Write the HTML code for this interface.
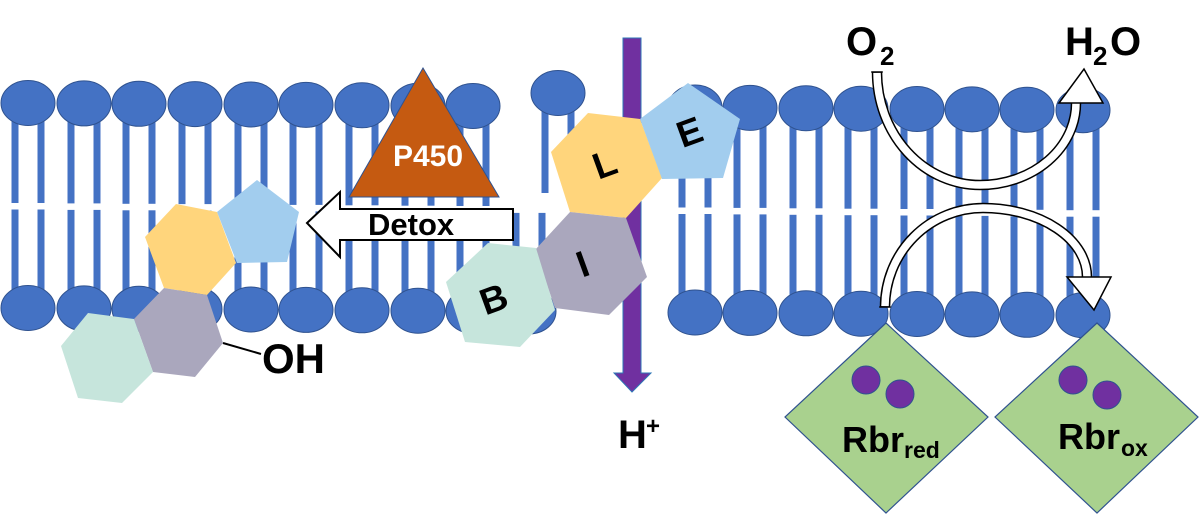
<!DOCTYPE html>
<html><head><meta charset="utf-8"><style>
html,body{margin:0;padding:0;background:#fff;}
svg{display:block;}
text{font-family:"Liberation Sans",Arial,sans-serif;font-weight:bold;}
</style></head><body>
<svg width="1200" height="516" viewBox="0 0 1200 516" xmlns="http://www.w3.org/2000/svg">
<defs>
<g id="col">
<rect x="-16.5" y="0" width="7" height="100" fill="#4472c4"/>
<rect x="9.5" y="0" width="7" height="100" fill="#4472c4"/>
<rect x="-16.5" y="106.5" width="7" height="98.5" fill="#4472c4"/>
<rect x="9.5" y="106.5" width="7" height="98.5" fill="#4472c4"/>
<ellipse cx="0" cy="0" rx="27" ry="22.5" fill="#4472c4" stroke="#2f528f" stroke-width="1"/>
<ellipse cx="0" cy="205" rx="27" ry="22.5" fill="#4472c4" stroke="#2f528f" stroke-width="1"/>
</g>
<g id="topcol">
<rect x="-16.5" y="0" width="7" height="100" fill="#4472c4"/>
<rect x="9.5" y="0" width="7" height="100" fill="#4472c4"/>
<ellipse cx="0" cy="0" rx="27" ry="22.5" fill="#4472c4" stroke="#2f528f" stroke-width="1"/>
</g>
<g id="botcol">
<rect x="-16.5" y="106.5" width="7" height="98.5" fill="#4472c4"/>
<rect x="9.5" y="106.5" width="7" height="98.5" fill="#4472c4"/>
<ellipse cx="0" cy="205" rx="27" ry="22.5" fill="#4472c4" stroke="#2f528f" stroke-width="1"/>
</g>
</defs>

<!-- lipids left -->
<use href="#col" transform="translate(28,103)"/>
<use href="#col" transform="translate(84,103.4)"/>
<use href="#col" transform="translate(139,103.8)"/>
<use href="#col" transform="translate(195,104.1)"/>
<use href="#col" transform="translate(251,104.5)"/>
<use href="#col" transform="translate(306,104.9)"/>
<use href="#col" transform="translate(362,105.3)"/>
<use href="#col" transform="translate(418,105.7)"/>
<use href="#col" transform="translate(473,106)"/>
<use href="#botcol" transform="translate(529,106.4)"/>
<use href="#topcol" transform="translate(558,93)"/>
<!-- lipids right -->
<use href="#col" transform="translate(695,107.5)"/>
<use href="#col" transform="translate(750,107.9)"/>
<use href="#col" transform="translate(806,108.3)"/>
<use href="#col" transform="translate(861,108.7)"/>
<use href="#col" transform="translate(917,109)"/>
<use href="#col" transform="translate(972,109.4)"/>
<use href="#col" transform="translate(1027,109.8)"/>
<use href="#col" transform="translate(1083,110.2)"/>

<!-- P450 triangle -->
<polygon points="423,68 499,197 349,197" fill="#c55a11" stroke="#2f528f" stroke-width="1"/>
<text x="428" y="166" font-size="30" fill="#fff" text-anchor="middle">P450</text>

<!-- Detox arrow -->
<polygon points="307,223 340,192 340,209 513,209 513,240 340,240 340,257" fill="#fff" stroke="#000" stroke-width="2"/>
<text x="368" y="235" font-size="31" fill="#000">Detox</text>

<!-- left molecule -->
<polygon points="257,180 299,212 287,262 237,263 217,212" fill="#a2cdee"/>
<polygon points="176,204 217,212 236,263 207,295 164,288 145,237" fill="#ffd57c"/>
<polygon points="164,288 207,295 223,343 195,377 153,372 134,319" fill="#aaa7bd"/>
<polygon points="88,313 134,319 153,372 122,403 78,398 61,346" fill="#c6e5dc"/>
<line x1="223" y1="343" x2="261" y2="354" stroke="#000" stroke-width="2"/>
<text x="262" y="373" font-size="42" fill="#000">OH</text>

<!-- purple H+ arrow -->
<polygon points="623,38 641,38 641,373 651,373 632,392 614,373 623,373" fill="#7030a0" stroke="#2e75b6" stroke-width="1"/>
<text x="618" y="448" font-size="40" fill="#000">H</text>
<text x="646" y="434" font-size="24" fill="#000">+</text>

<!-- center molecule -->
<polygon points="588,113 640,119 662,178 626,218 570,212 551,152" fill="#ffd57c"/>
<polygon points="688,83 740,119 723,178 662,179 640,119" fill="#a2cdee"/>
<polygon points="570,212 626,218 647,277 609,315 555,308 535,250" fill="#aaa7bd"/>
<polygon points="488,243 536,248 555,310 520,347 465,342 446,282" fill="#c6e5dc"/>
<text x="0" y="0" font-size="37" fill="#000" text-anchor="middle" transform="translate(609,176) rotate(-20)">L</text>
<text x="0" y="0" font-size="37" fill="#000" text-anchor="middle" transform="translate(694,144) rotate(-20)">E</text>
<text x="0" y="0" font-size="37" fill="#000" text-anchor="middle" transform="translate(587,276) rotate(-20)">I</text>
<text x="0" y="0" font-size="37" fill="#000" text-anchor="middle" transform="translate(498,311) rotate(-20)">B</text>

<!-- O2 / H2O -->
<text x="846" y="55" font-size="40" fill="#000">O</text>
<text x="880" y="65" font-size="26" fill="#000">2</text>
<text x="1065" y="55" font-size="40" fill="#000">H</text>
<text x="1093" y="65" font-size="26" fill="#000">2</text>
<text x="1110" y="55" font-size="40" fill="#000">O</text>

<!-- curved arrows -->
<path d="M877,72 A103,113 0 0 0 980,185 A96,82 0 0 0 1076,103" fill="none" stroke="#000" stroke-width="10.5"/>
<path d="M877,72.8 A103,113 0 0 0 980,185 A96,82 0 0 0 1076,102" fill="none" stroke="#fff" stroke-width="7.5"/>
<line x1="871.2" y1="72" x2="882.8" y2="72" stroke="#000" stroke-width="1.5"/>
<polygon points="1059,103 1084,69 1103,103" fill="#fff" stroke="#000" stroke-width="1.5" stroke-linejoin="miter"/>

<path d="M885,307 A98,99 0 0 1 983,208 A104,69 0 0 1 1087,277" fill="none" stroke="#000" stroke-width="10.5"/>
<path d="M885,306.2 A98,99 0 0 1 983,208 A104,69 0 0 1 1087,278" fill="none" stroke="#fff" stroke-width="7.5"/>
<line x1="879.2" y1="307" x2="890.8" y2="307" stroke="#000" stroke-width="1.5"/>
<polygon points="1067,277 1111,277 1094,310" fill="#fff" stroke="#000" stroke-width="1.5"/>

<!-- Rubrerythrin diamonds -->
<polygon points="886,323 988,417 886,513 785,417" fill="#a9d18e" stroke="#2f528f" stroke-width="1.2"/>
<polygon points="1097,323 1198,417 1097,513 995,417" fill="#a9d18e" stroke="#2f528f" stroke-width="1.2"/>
<circle cx="866" cy="380" r="14" fill="#7030a0" stroke="#2f528f" stroke-width="1"/>
<circle cx="900" cy="394" r="14" fill="#7030a0" stroke="#2f528f" stroke-width="1"/>
<circle cx="1073" cy="380" r="14" fill="#7030a0" stroke="#2f528f" stroke-width="1"/>
<circle cx="1107" cy="395" r="14" fill="#7030a0" stroke="#2f528f" stroke-width="1"/>
<text x="842" y="452" font-size="36" fill="#000">Rbr</text>
<text x="904" y="458" font-size="23" fill="#000">red</text>
<text x="1058" y="449" font-size="36" fill="#000">Rbr</text>
<text x="1121" y="456" font-size="23" fill="#000">ox</text>
</svg>
</body></html>
